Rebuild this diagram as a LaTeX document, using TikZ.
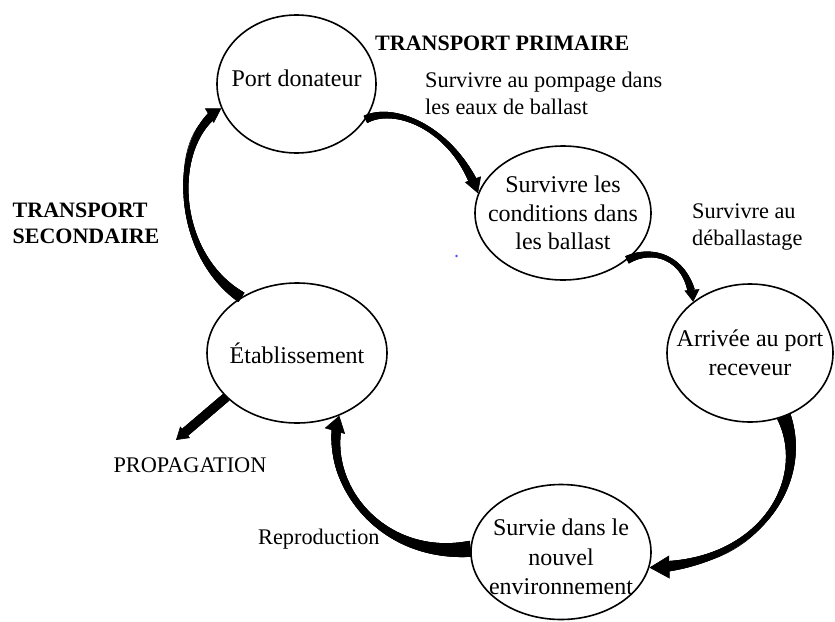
\documentclass[tikz,border=0pt]{standalone}
\usepackage{fontspec}
\setmainfont{Liberation Serif}
\usetikzlibrary{shapes.geometric,decorations.markings,arrows.meta,calc}
\tikzset{
  tband/.style n args={5}{%
    draw=black, line width=0.6pt, -{Triangle[width=#4,length=#5]},
    postaction={decorate, decoration={markings,
      mark=between positions 0 and -#5 step 0.3pt with {%
        \pgfmathsetmacro\tapT{\pgfkeysvalueof{/pgf/decoration/mark info/distance from start}/\pgfdecoratedpathlength}%
        \pgfmathsetmacro\tapW{#1*(2*\tapT-1)*(\tapT-1)+#2*4*\tapT*(1-\tapT)+#3*\tapT*(2*\tapT-1)}%
        \fill[black] (-0.5pt,-0.5*\tapW pt) rectangle (0.5pt,0.5*\tapW pt);}
    }}}
}
\begin{document}
\begin{tikzpicture}[x=1pt,y=-1pt,
  ell/.style={ellipse,draw,line width=1.6pt,inner sep=0pt},
  etxt/.style={inner sep=0pt,align=center,font=\fontsize{24}{28.5}\selectfont},
  lbl/.style={inner sep=0pt,align=left,font=\fontsize{22.3}{26.5}\selectfont},
  blbl/.style={inner sep=0pt,align=left,font=\fontsize{22}{26}\selectfont\bfseries}]
\useasboundingbox (0,0) rectangle (835,621);

\node[ell,minimum width=159pt,minimum height=138pt,
  label={[etxt,yshift=6pt]center:Port donateur}] (pd) at (296.5,84) {};
\node[ell,minimum width=176pt,minimum height=134pt,
  label={[etxt]center:{Survivre les\\conditions dans\\les ballast}}] (sc) at (563,213) {};
\node[ell,minimum width=166pt,minimum height=138pt,
  label={[etxt]center:{Arrivée au port\\receveur}}] (ar) at (750,353) {};
\node[ell,minimum width=180pt,minimum height=135pt,
  label={[etxt,font=\fontsize{24}{29.5}\selectfont,yshift=-5pt]center:{Survie dans le\\nouvel\\environnement}}] (sv) at (561,552) {};
\node[ell,minimum width=180pt,minimum height=140pt,
  label={[etxt]center:Établissement}] (et) at (297,353) {};

\node[blbl,anchor=base west] (tp) at (375,50) {TRANSPORT PRIMAIRE};
\node[lbl,anchor=north west] (l1) at (425,72) {Survivre au pompage dans\\les eaux de ballast};
\node[blbl,anchor=north west] (ts) at (12.5,203) {TRANSPORT\\SECONDAIRE};
\node[lbl,anchor=north west] (l2) at (692,204) {Survivre au\\déballastage};
\node[lbl,anchor=base] (prop) at (190,472) {PROPAGATION};
\node[lbl,anchor=base west] (repro) at (258,544) {Reproduction};
\coordinate (ptip) at (176,440);

\path[tband={8}{5}{10}{17pt}{15pt}] (pd.-27) .. controls +(30,-15) and +(-23,-64) .. (sc.167);
\path[tband={8}{5}{9}{15pt}{12pt}] (sc.-36) .. controls +(28,-14) and +(-4,-42) .. (ar.138);
\path[tband={14}{5.5}{13}{23pt}{20pt}] (ar.-62) .. controls +(26,64) and +(112,-3) .. (sv.-10);
\path[tband={16}{7}{11}{21pt}{16pt}] (sv.178) .. controls +(-91,11) and +(-18.5,65) .. (et.-56);
\path[tband={11}{5}{10}{17pt}{14pt}] (et.135) .. controls +(-69,-44.5) and +(-51,31) .. (pd.198);
\path[tband={9}{9}{9}{15pt}{12pt}] (et.212) -- (ptip);

\fill[blue!70!white] (456.5,256) circle (1.3pt);
\end{tikzpicture}
\end{document}
